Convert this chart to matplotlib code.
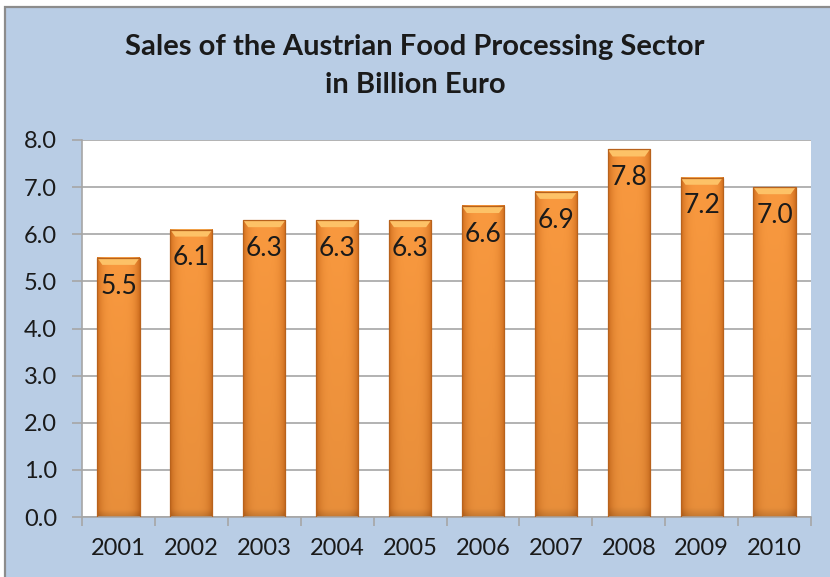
import numpy as np
import matplotlib
matplotlib.use('Agg')
import matplotlib.pyplot as plt
from matplotlib.colors import to_rgb
from matplotlib.patches import Rectangle, Polygon

years = ['2001', '2002', '2003', '2004', '2005', '2006', '2007', '2008', '2009', '2010']
sales = [5.5, 6.1, 6.3, 6.3, 6.3, 6.6, 6.9, 7.8, 7.2, 7.0]
yticks = [0.0, 1.0, 2.0, 3.0, 4.0, 5.0, 6.0, 7.0, 8.0]
title_lines = ['Sales of the Austrian Food Processing Sector', 'in Billion Euro']

plt.rcParams['font.family'] = ['Lato', 'DejaVu Sans']

W, H = 830, 577
fig = plt.figure(figsize=(W / 100, H / 100), dpi=100)
fig.patch.set_facecolor('white')
bg = Rectangle((5 / W, -0.02), 1.0, 1 - 7 / H + 0.02, transform=fig.transFigure,
               facecolor='#B9CDE5', edgecolor='#8C8C8C', lw=1.6, zorder=-5)
fig.patches.append(bg)

ax = fig.add_axes([82 / W, 1 - 517 / H, (811 - 82) / W, (517 - 140) / H])
ax.set_zorder(1)
ax.set_facecolor('white')

x = np.arange(len(years))
bars = ax.bar(x, sales, width=0.58, color='none', edgecolor='none', zorder=2)

# gradient body
edge_c = np.array(to_rgb('#D06E1E'))
mid_c = np.array(to_rgb('#F9993F'))
nx, ny = 64, 128
t = np.linspace(0, 1, nx)
prof = 1 - np.abs(2 * t - 1) ** 4
row = edge_c[None, :] + (mid_c - edge_c)[None, :] * prof[:, None]
img = np.repeat(row[None, :, :], ny, axis=0)
vy = np.linspace(0, 1, ny)  # 0 = top row
shade = 1.0 - 0.07 * vy
shade = np.where(vy > 0.975, shade - (vy - 0.975) * 5.0, shade)
img = np.clip(img * shade[:, None, None], 0, 1)

bev = 0.15
for b, v in zip(bars, sales):
    x0, w, h = b.get_x(), b.get_width(), b.get_height()
    ax.imshow(img, extent=(x0, x0 + w, 0, h), aspect='auto', zorder=2,
              interpolation='bilinear')
    dx = w * 0.12
    ax.add_patch(Polygon([(x0, h), (x0 + w, h), (x0 + w - dx, h - bev), (x0 + dx, h - bev)],
                         closed=True, facecolor='#FDC267', edgecolor='none', zorder=3))
    ax.add_patch(Rectangle((x0, 0), w, h, facecolor='none', edgecolor='#B8621C',
                           lw=0.9, zorder=4))
    ax.text(b.get_x() + w / 2, v - 0.6, f'{v:.1f}', ha='center', va='center',
            fontsize=19, color='#1a1a1a', zorder=5)

ax.set_xlim(-0.5, len(years) - 0.5)
ax.set_ylim(0, 8)
ax.set_yticks(yticks)
ax.set_yticklabels([f'{v:.1f}' for v in yticks])
ax.set_xticks(x)
ax.set_xticklabels(years)
ax.set_xticks(np.arange(len(years) + 1) - 0.5, minor=True)

ax.yaxis.grid(True, color='#A6A6A6', lw=1.2, zorder=0)
ax.set_axisbelow(True)
for s in ['top', 'right']:
    ax.spines[s].set_visible(False)
for s in ['left', 'bottom']:
    ax.spines[s].set_color('#A6A6A6')
    ax.spines[s].set_linewidth(1.2)

ax.tick_params(axis='y', length=7, width=1.2, color='#A6A6A6', pad=11,
               labelsize=17, labelcolor='#1a1a1a')
ax.tick_params(axis='x', which='major', length=0, pad=15, labelsize=17,
               labelcolor='#1a1a1a')
ax.tick_params(axis='x', which='minor', length=6.5, width=1.2, color='#A6A6A6')

fig.text(0.5, 1 - 47 / H, title_lines[0], ha='center', va='center',
         fontsize=21, fontweight='bold', color='#1a1a1a')
fig.text(0.5, 1 - 85 / H, title_lines[1], ha='center', va='center',
         fontsize=21, fontweight='bold', color='#1a1a1a')

fig.savefig('out.png', dpi=100, facecolor=fig.get_facecolor())
